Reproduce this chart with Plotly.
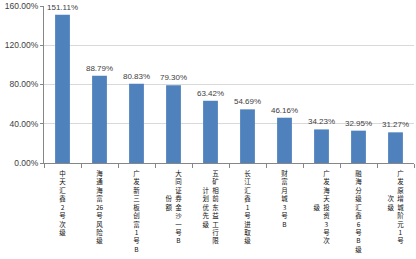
import plotly.graph_objects as go

# Data
categories = ["中天汇鑫2号次级", "海通海富26号风险级", "广发新三板创富1号B", "大同证券金沙一号B份额",
              "五矿相前东益工行限计划优先级", "长江汇鑫1号进取级", "财富月城3号B", "广发海天投资3号次级",
              "融海分级汇鑫6号B级", "广发原增城阶元1号次级"]
# label columns (first column on the right, continuation on the left)
label_cols = [["中天汇鑫2号次级"], ["海通海富26号风险级"], ["广发新三板创富1号B"],
              ["大同证券金沙一号B", "份额"], ["五矿相前东益工行限", "计划优先级"],
              ["长江汇鑫1号进取级"], ["财富月城3号B"], ["广发海天投资3号次", "级"],
              ["融海分级汇鑫6号B级"], ["广发原增城阶元1号", "次级"]]
values = [151.11, 88.79, 80.83, 79.30, 63.42, 54.69, 46.16, 34.23, 32.95, 31.27]
y_ticks = [0, 40, 80, 120, 160]


def split_chars(s):
    out = []
    i = 0
    while i < len(s):
        if s[i].isdigit():
            j = i
            while j < len(s) and s[j].isdigit():
                j += 1
            out.append(s[i:j])
            i = j
        else:
            out.append(s[i])
            i += 1
    return out


def vertical(cols):
    c1 = split_chars(cols[0])
    if len(cols) == 1:
        return "<br>".join(c1)
    c2 = split_chars(cols[1])
    off = (len(c1) - len(c2)) // 2
    lines = []
    for i, ch in enumerate(c1):
        k = i - off
        left = c2[k] if 0 <= k < len(c2) else "\u3000"
        lines.append(left + "\u2002" + ch)
    return "<br>".join(lines)


ticktext = [vertical(c) for c in label_cols]

fig = go.Figure(go.Bar(
    x=categories, y=[v / 100 for v in values],
    marker=dict(color="#4f81bd", line=dict(width=0)),
    text=[f"{v:.2f}%" for v in values], textposition="outside",
    constraintext="none",
    textfont=dict(size=8, color="#404040", family="Liberation Sans, Arial"),
    cliponaxis=False,
))

fig.update_layout(
    width=416, height=259,
    margin=dict(l=44, r=2, t=6, b=96),
    paper_bgcolor="white", plot_bgcolor="white",
    bargap=0.6, showlegend=False,
    font=dict(family="Noto Sans CJK SC", color="#222"),
)
fig.update_xaxes(
    tickmode="array", tickvals=categories, ticktext=ticktext, tickangle=0,
    tickfont=dict(size=6.5, color="#111", family="Noto Sans CJK SC"),
    showline=True, linecolor="#868686", linewidth=1,
    ticks="outside", ticklen=4, tickcolor="#868686", tickson="boundaries",
    ticklabelstandoff=4,
    showgrid=False,
)
fig.update_yaxes(
    range=[0, 1.6], tickvals=[t / 100 for t in y_ticks], tickformat=".2%",
    tickfont=dict(size=8.5, color="#404040", family="Liberation Sans, Arial"),
    showline=True, linecolor="#868686", linewidth=1,
    ticks="outside", ticklen=3, tickcolor="#868686",
    showgrid=True, gridcolor="#d9d9d9", gridwidth=1, zeroline=False,
)

fig.write_html("out.html")
